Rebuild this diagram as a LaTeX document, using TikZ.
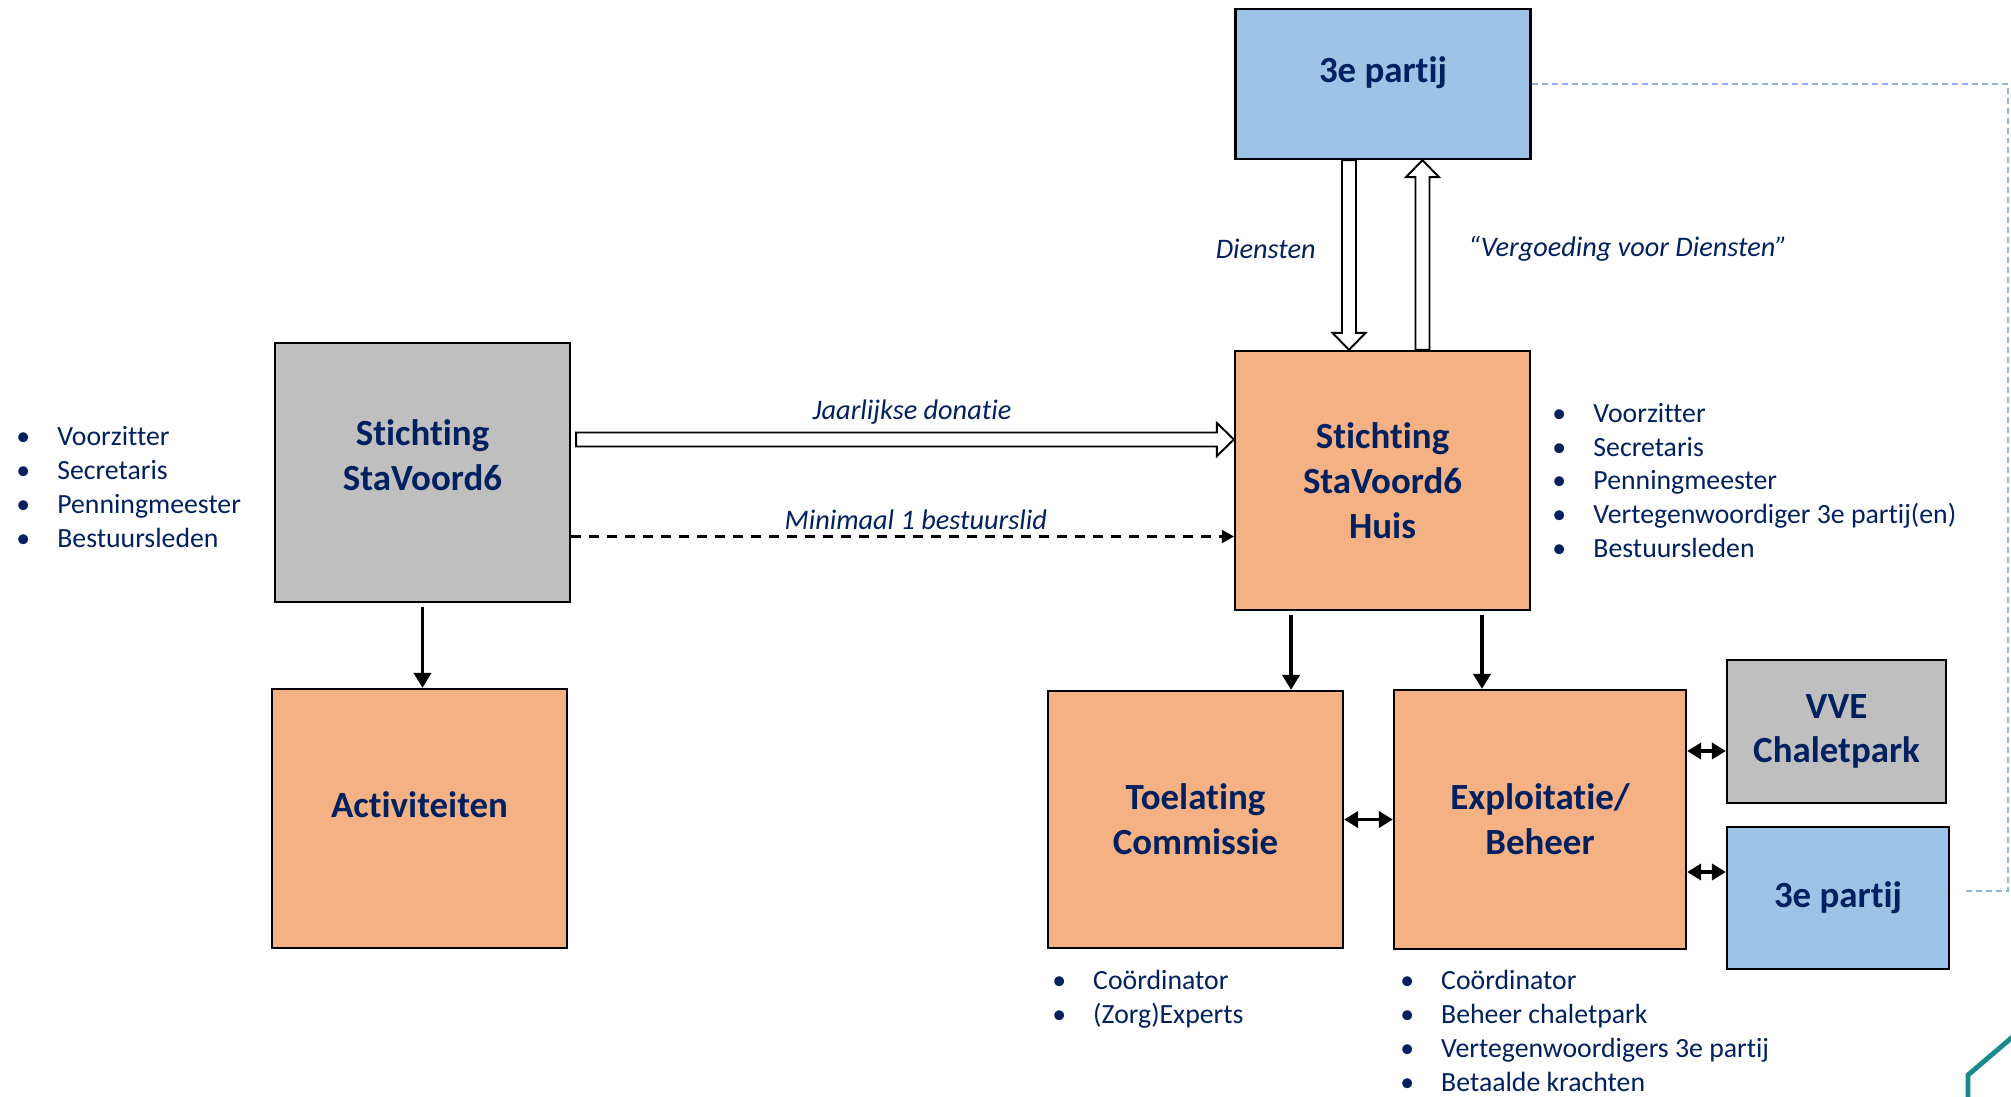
\documentclass[tikz,border=0pt]{standalone}
\usepackage{fontspec}
\setmainfont{Carlito}[Ligatures=NoCommon]
\usepackage{tikz}
\usetikzlibrary{arrows.meta,calc,positioning}
\definecolor{navy}{HTML}{002060}
\definecolor{peach}{HTML}{F4B183}
\definecolor{sky}{HTML}{9DC3E6}
\definecolor{slate}{HTML}{BFBFBF}
\definecolor{linkblue}{HTML}{8DB4E2}
\definecolor{logoteal}{HTML}{1B8A8C}
\tikzset{box/.style={rectangle,fill=#1,draw,line width=1.3pt,minimum width=5.9cm,minimum height=5.18cm,inner sep=0pt,align=center,text=navy,font=\fontsize{21}{25.5}\selectfont\bfseries},}
\tikzset{lst/.style={inner sep=0pt,align=left,text=navy,font=\fontsize{15.8}{19.3}\selectfont},
  lbl/.style={inner sep=0pt,text=navy,font=\fontsize{16.1}{19}\selectfont\itshape}}
\tikzset{hollow/.style={fill=white,draw,line width=1.1pt,to path={let \p1=(\tikztostart), \p2=(\tikztotarget), \n1={atan2(\y2-\y1,\x2-\x1)} in
  ($(\p1)+({\n1+90}:0.14cm)$) -- ($(\p2)+({\n1+180}:0.34cm)+({\n1+90}:0.14cm)$) -- ($(\p2)+({\n1+180}:0.34cm)+({\n1+90}:0.33cm)$) -- (\p2)
  -- ($(\p2)+({\n1+180}:0.34cm)+({\n1-90}:0.33cm)$) -- ($(\p2)+({\n1+180}:0.34cm)+({\n1-90}:0.14cm)$) -- ($(\p1)+({\n1-90}:0.14cm)$) -- cycle}}}
\tikzstyle{arrow} = [line width=2.2pt,-{Triangle[length=0.3cm,width=0.34cm]},shorten <=2pt]
\tikzstyle{both} = [line width=2.2pt,{Triangle[length=0.28cm,width=0.32cm]}-{Triangle[length=0.28cm,width=0.32cm]}]
\tikzstyle{dash arrow} = [line width=1.2pt,dash pattern=on 0.2cm off 0.16cm,-{Triangle[length=0.24cm,width=0.26cm]}]
\tikzstyle{link} = [linkblue,line width=0.9pt,dash pattern=on 0.12cm off 0.08cm]
\newcommand{\bul}{\makebox[0.82cm][l]{•}}

\begin{document}
\begin{tikzpicture}[x=0.02cm,y=-0.02cm]
  \useasboundingbox (0,0) rectangle (2011,1096);
    \node[box=sky,minimum height=3cm,text depth=0.58cm] (top3e) at (1383,84) {3e partij};
    \node[box=slate,text depth=0.7cm] (stv) at (422.5,472.5) {Stichting\\StaVoord6};
    \node[box=peach,text depth=0.56cm] (act) at (419.5,818.5) {Activiteiten};
    \node[box=peach] (huis) at (1382.5,480.5) {Stichting\\StaVoord6\\Huis};
    \node[box=peach,minimum height=5.14cm] (toel) at (1195.5,819.5) {Toelating\\Commissie};
    \node[box=peach,minimum width=5.84cm] (expl) at (1540,819.5) {Exploitatie/\\Beheer};
    \node[box=slate,minimum width=4.38cm,minimum height=2.86cm] (vve) at (1836.5,731.5) {VVE\\Chaletpark};
    \node[box=sky,minimum width=4.44cm,minimum height=2.84cm] (bot3e) at (1838,898) {3e partij};

    % lists
    \node[lst,anchor=west] (stvlist) at (16,487) {\bul Voorzitter\\\bul Secretaris\\\bul Penningmeester\\\bul Bestuursleden};
    \node[lst,right=0.42cm of huis] (huislist) {\bul Voorzitter\\\bul Secretaris\\\bul Penningmeester\\\bul Vertegenwoordiger 3e partij(en)\\\bul Bestuursleden};
    \node[lst,below right=0.42cm and 0.1cm of toel.south west] (toellist) {\bul Coördinator\\\bul (Zorg)Experts};
    \node[lst,below right=0.4cm and 0.14cm of expl.south west] (expllist) {\bul Coördinator\\\bul Beheer chaletpark\\\bul Vertegenwoordigers 3e partij\\\bul Betaalde krachten};

    \coordinate (jaar) at ([xshift=0.1cm,yshift=0.66cm]stv.east);
    \coordinate (mini) at ([yshift=-1.28cm]stv.east);
    \coordinate (dienst) at ([xshift=-0.68cm]top3e.south);
    \coordinate (vergoed) at ([xshift=0.8cm]huis.north);
    \coordinate (toA) at ([xshift=-1.83cm]huis.south);
    \coordinate (toB) at ([xshift=1.99cm]huis.south);
    \coordinate (ev) at ([yshift=1.37cm]expl.east);
    \coordinate (eb) at ([yshift=-1.05cm]expl.east);
    \coordinate (linkcorner) at (2008,891);
    \coordinate (linkend) at (1962,891);

    \draw[hollow] (jaar) to (jaar -| huis.west);
    \node[lbl] (jaarlbl) at (912,412) {Jaarlijkse donatie};
    \draw[dash arrow] (mini) -- node[lbl,pos=0.52,above=0.12cm] (minilbl) {Minimaal 1 bestuurslid} (mini -| huis.west);
    \draw[hollow] (dienst) to (dienst |- huis.north);
    \draw[hollow] (vergoed) to (vergoed |- top3e.south);
    \node[lbl,anchor=east] (dienstlbl) at (1316,249) {Diensten};
    \node[lbl,anchor=west] (vergoedlbl) at (1468,249) {“Vergoeding voor Diensten”};

    \draw[arrow] (stv.south) -- (stv.south |- act.north);
    \draw[arrow] (toA) -- (toA |- toel.north);
    \draw[arrow] (toB) -- (toB |- expl.north);
    \draw[both] (toel) -- (expl);
    \draw[both] (ev) -- (ev -| vve.west);
    \draw[both] (eb) -- (eb -| bot3e.west);
    \draw[link] (top3e.east) -| (linkcorner) -- (linkend);

    \draw[logoteal,line width=2.8pt] (1968,1100) -- (1968,1075) -- (2030,1022);
\end{tikzpicture}
\end{document}
